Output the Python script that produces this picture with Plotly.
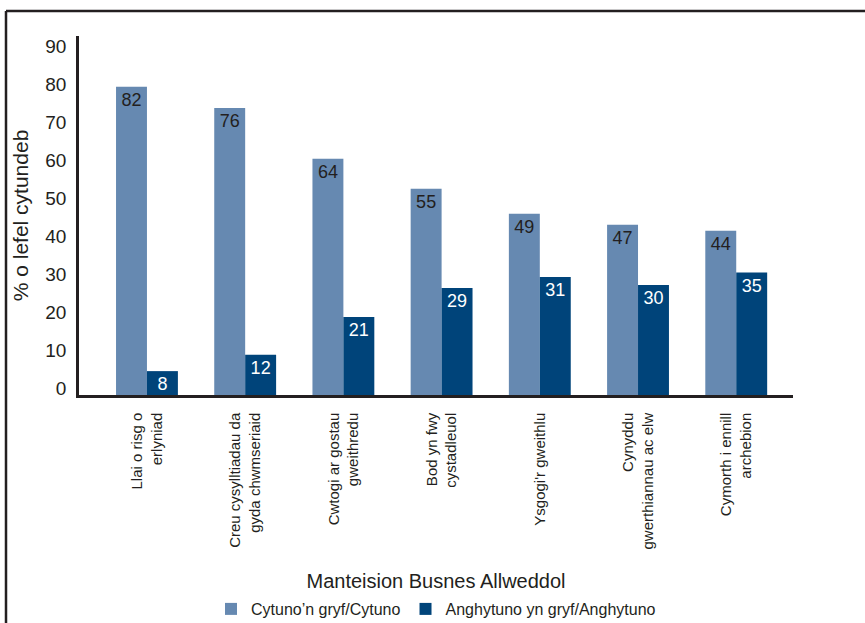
import plotly.graph_objects as go

categories = [
    "Llai o risg o<br>erlyniad",
    "Creu cysylltiadau da<br>gyda chwmseriaid",
    "Cwtogi ar gostau<br>gweithredu",
    "Bod yn fwy<br>cystadleuol",
    "Ysgogi'r gweithlu",
    "Cynyddu<br>gwerthiannau ac elw",
    "Cymorth i ennill<br>archebion",
]
agree_heights = [81.3, 75.7, 62.3, 54.4, 47.8, 44.9, 43.3]
agree_labels = [82, 76, 64, 55, 49, 47, 44]
disagree_heights = [6.3, 10.6, 20.6, 28.2, 31.1, 29.0, 32.3]
disagree_labels = [8, 12, 21, 29, 31, 30, 35]
series_names = ["Cytuno\u2019n gryf/Cytuno", "Anghytuno yn gryf/Anghytuno"]
y_ticks = [0, 10, 20, 30, 40, 50, 60, 70, 80, 90]
x_title = "Manteision Busnes Allweddol"
y_title = "% o lefel cytundeb"

LIGHT = "#6689b1"
DARK = "#00447a"
INK = "#231f20"
FONT = "Liberation Sans, Arial, sans-serif"

fig = go.Figure()
fig.add_trace(go.Bar(
    x=categories, y=agree_heights, name=series_names[0],
    marker=dict(color=LIGHT, line=dict(width=0)),
    text=[str(v) for v in agree_labels], textposition="inside",
    insidetextanchor="end", textangle=0, constraintext="none",
    textfont=dict(color=INK, size=18, family=FONT),
))
fig.add_trace(go.Bar(
    x=categories, y=disagree_heights, name=series_names[1],
    marker=dict(color=DARK, line=dict(width=0)),
    text=[str(v) for v in disagree_labels], textposition="inside",
    insidetextanchor="end", textangle=0, constraintext="none",
    textfont=dict(color="white", size=18, family=FONT),
))

W, H = 865, 623
L, R, T, B = 79, 72, 36, 228
pw, ph = W - L - R, H - T - B

def px_x(p):
    return (p - L) / pw

def px_y(p):
    return (H - B - p) / ph

fig.update_layout(
    width=W, height=H,
    margin=dict(l=L, r=R, t=T, b=B, autoexpand=False),
    paper_bgcolor="white", plot_bgcolor="white",
    font=dict(family=FONT, color=INK),
    barmode="group", bargap=0.37, bargroupgap=0,
    showlegend=True,
    legend=dict(orientation="h", x=0.5, xanchor="center", y=px_y(609),
                yanchor="middle", font=dict(size=16, family=FONT, color=INK),
                itemsizing="constant", traceorder="normal"),
    xaxis=dict(
        type="category", range=[-0.692, 6.578],
        showline=True, linecolor=INK, linewidth=2.5,
        ticks="", tickangle=-90, tickfont=dict(size=15, family=FONT, color=INK),
        ticklabelstandoff=9, showgrid=False, zeroline=False,
        title=dict(text=x_title, font=dict(size=20, family=FONT, color=INK), standoff=26),
    ),
    yaxis=dict(
        range=[0, 94.7], tickvals=y_ticks, ticktext=[str(v) for v in y_ticks],
        showline=True, linecolor=INK, linewidth=2.5,
        ticks="", tickfont=dict(size=19, family=FONT, color=INK),
        ticklabelshift=-7, ticklabelstandoff=6,
        showgrid=False, zeroline=False,
        title=dict(text=y_title, font=dict(size=21, family=FONT, color=INK), standoff=11),
    ),
    shapes=[
        dict(type="line", xref="paper", yref="paper",
             x0=px_x(6), x1=px_x(6), y0=px_y(11), y1=px_y(660),
             line=dict(color=INK, width=2.5)),
        dict(type="line", xref="paper", yref="paper",
             x0=px_x(6), x1=px_x(900), y0=px_y(11), y1=px_y(11),
             line=dict(color=INK, width=2.5)),
    ],
)

fig.write_html(
    "out.html",
    config={"displayModeBar": False},
    post_script="document.body.style.margin='0';document.body.style.overflow='hidden';",
)
